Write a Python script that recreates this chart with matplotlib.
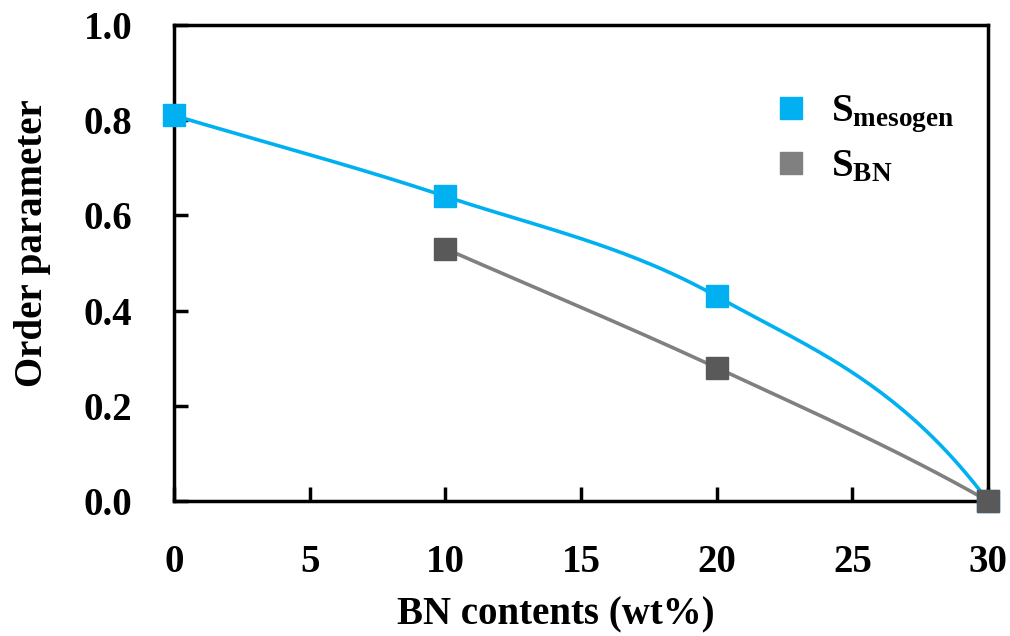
import numpy as np
import matplotlib
matplotlib.use("Agg")
import matplotlib.pyplot as plt
from matplotlib.lines import Line2D

plt.rcParams['font.family'] = ['Liberation Serif', 'DejaVu Serif']
plt.rcParams['font.weight'] = 'bold'
plt.rcParams['mathtext.fontset'] = 'custom'
plt.rcParams['mathtext.rm'] = 'Liberation Serif:bold'
plt.rcParams['mathtext.bf'] = 'Liberation Serif:bold'
plt.rcParams['mathtext.it'] = 'Liberation Serif:bold'

# Data
bn_mesogen = [0, 10, 20, 30]
s_mesogen = [0.81, 0.64, 0.43, 0.0]
bn_bn = [10, 20, 30]
s_bn = [0.53, 0.28, 0.0]
xticks = [0, 5, 10, 15, 20, 25, 30]
yticks = [0.0, 0.2, 0.4, 0.6, 0.8, 1.0]

blue = '#00B0F0'
gray_line = '#808080'
gray_marker = '#595959'


def smooth(x, y, n=80, a_start=1.0, a_end=4.0):
    """Hermite spline through the points: interior Catmull-Rom tangents,
    end tangents extrapolated from the adjacent chord."""
    x = np.asarray(x, float); y = np.asarray(y, float)
    k = len(x)
    m = np.zeros(k)
    for i in range(1, k - 1):
        m[i] = (y[i + 1] - y[i - 1]) / (x[i + 1] - x[i - 1])
    c0 = (y[1] - y[0]) / (x[1] - x[0])
    cn = (y[-1] - y[-2]) / (x[-1] - x[-2])
    m[0] = a_start * c0 - (a_start - 1) * m[1] if k > 2 else c0
    m[-1] = a_end * cn - (a_end - 1) * m[-2] if k > 2 else cn
    xs, ys = [], []
    for i in range(k - 1):
        h = x[i + 1] - x[i]
        t = np.linspace(0, 1, n)
        h00 = 2 * t**3 - 3 * t**2 + 1
        h10 = t**3 - 2 * t**2 + t
        h01 = -2 * t**3 + 3 * t**2
        h11 = t**3 - t**2
        yy = h00 * y[i] + h10 * h * m[i] + h01 * y[i + 1] + h11 * h * m[i + 1]
        xx = x[i] + t * h
        if i > 0:
            xx, yy = xx[1:], yy[1:]
        xs.append(xx); ys.append(yy)
    return np.concatenate(xs), np.concatenate(ys)


fig = plt.figure(figsize=(10.1, 6.36), dpi=100)
ax = fig.add_axes([174 / 1010, 1 - 501 / 636, (988 - 174) / 1010, (501 - 25) / 636])

sx, sy = smooth(bn_mesogen, s_mesogen)
ax.plot(sx, sy, color=blue, lw=2.6, zorder=3, clip_on=False)
sx, sy = smooth(bn_bn, s_bn)
ax.plot(sx, sy, color=gray_line, lw=2.6, zorder=3, clip_on=False)
ax.plot(bn_mesogen, s_mesogen, ls='none', marker='s', ms=16, color=blue, zorder=4, clip_on=False)
ax.plot(bn_bn, s_bn, ls='none', marker='s', ms=16, color=gray_marker, zorder=5, clip_on=False)

ax.set_xlim(0, 30)
ax.set_ylim(0, 1.0)
ax.set_xticks(xticks)
ax.set_yticks(yticks)
ax.set_xticklabels([str(v) for v in xticks])
ax.set_yticklabels([f'{v:.1f}' for v in yticks])
ax.tick_params(direction='in', length=10, width=2.5, labelsize=28)
ax.tick_params(axis='x', pad=31)
ax.tick_params(axis='y', pad=30)
for sp in ax.spines.values():
    sp.set_linewidth(2.5)

ax.set_xlabel('BN contents (wt%)', fontsize=28, fontweight='bold')
ax.set_ylabel('Order parameter', fontsize=28, fontweight='bold')
ax.xaxis.set_label_coords(0.469, -0.20)
ax.yaxis.set_label_coords(-0.151, 0.542)

handles = [Line2D([], [], ls='none', marker='s', ms=16, color=blue),
           Line2D([], [], ls='none', marker='s', ms=16, color=gray_line)]
labels = [r'$\mathbf{S_{mesogen}}$', r'$\mathbf{S_{BN}}$']
ax.legend(handles, labels, loc='upper left', bbox_to_anchor=(0.6915, 0.93), frameon=False,
          fontsize=28, handletextpad=0.53, labelspacing=0.35, handlelength=1.0,
          borderpad=0.4)

fig.savefig('out.png', dpi=100)
